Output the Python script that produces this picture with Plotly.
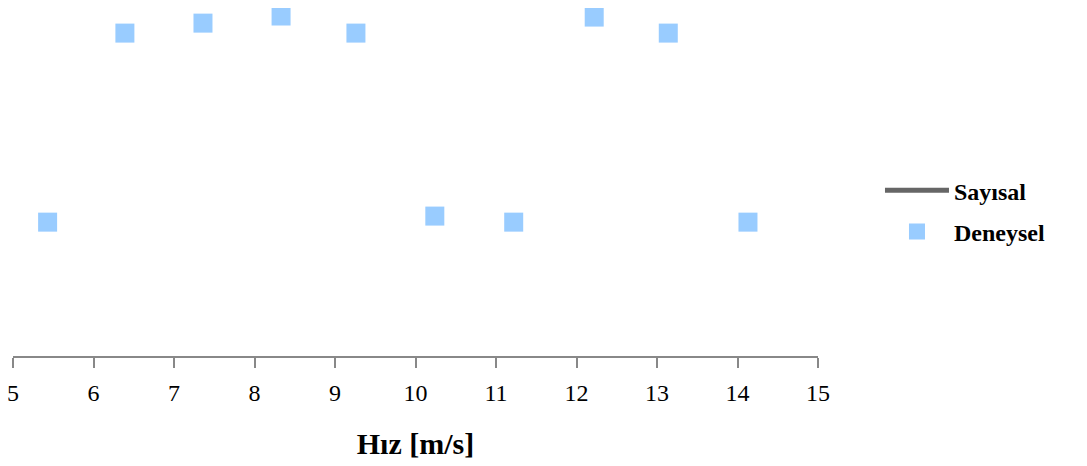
import plotly.graph_objects as go

# Data
hiz_deneysel = [5.43, 6.39, 7.36, 8.33, 9.26, 10.24, 11.22, 12.22, 13.14, 14.13]
deger_deneysel = [37.6, 90.7, 93.5, 95.5, 90.7, 39.3, 37.6, 95.2, 90.7, 37.6]
hiz_sayisal = [None]
deger_sayisal = [None]
x_ticks = [5, 6, 7, 8, 9, 10, 11, 12, 13, 14, 15]

FONT = "Liberation Serif"

fig = go.Figure()
fig.add_trace(go.Scatter(
    x=hiz_sayisal, y=deger_sayisal, name="Sayısal", mode="lines",
    line=dict(color="#666666", width=5), legendgroup="a",
))
fig.add_trace(go.Scatter(
    x=hiz_deneysel, y=deger_deneysel, name="Deneysel", mode="markers",
    marker=dict(symbol="square", size=19, color="#99CCFF", line=dict(width=0)),
    cliponaxis=False, legendgroup="b",
))

fig.update_layout(
    width=1087, height=466,
    margin=dict(l=5, r=277, t=0, b=118, autoexpand=False),
    paper_bgcolor="white", plot_bgcolor="white",
    font=dict(family=FONT, color="#000000"),
    showlegend=True,
    legend=dict(
        x=1.077, y=0.416, xanchor="left", yanchor="middle",
        font=dict(family=FONT, size=24, weight="bold", color="#000000"),
        itemwidth=64, tracegroupgap=7, traceorder="grouped",
        bgcolor="rgba(0,0,0,0)",
    ),
    xaxis=dict(
        range=[5, 15], tickvals=x_ticks, ticktext=[str(v) for v in x_ticks],
        showgrid=False, zeroline=False, automargin=False,
        showline=True, linecolor="#888888", linewidth=2,
        ticks="outside", ticklen=10, tickwidth=2, tickcolor="#888888",
        tickfont=dict(family=FONT, size=24, color="#000000"),
        ticklabelstandoff=4, ticklabeloverflow="allow",
        title=dict(text="Hız [m/s]", font=dict(family=FONT, size=30, weight="bold", color="#000000"), standoff=28),
    ),
    yaxis=dict(
        range=[0, 97.75], visible=False, showgrid=False, zeroline=False, automargin=False,
    ),
)

fig.write_html("out.html")
